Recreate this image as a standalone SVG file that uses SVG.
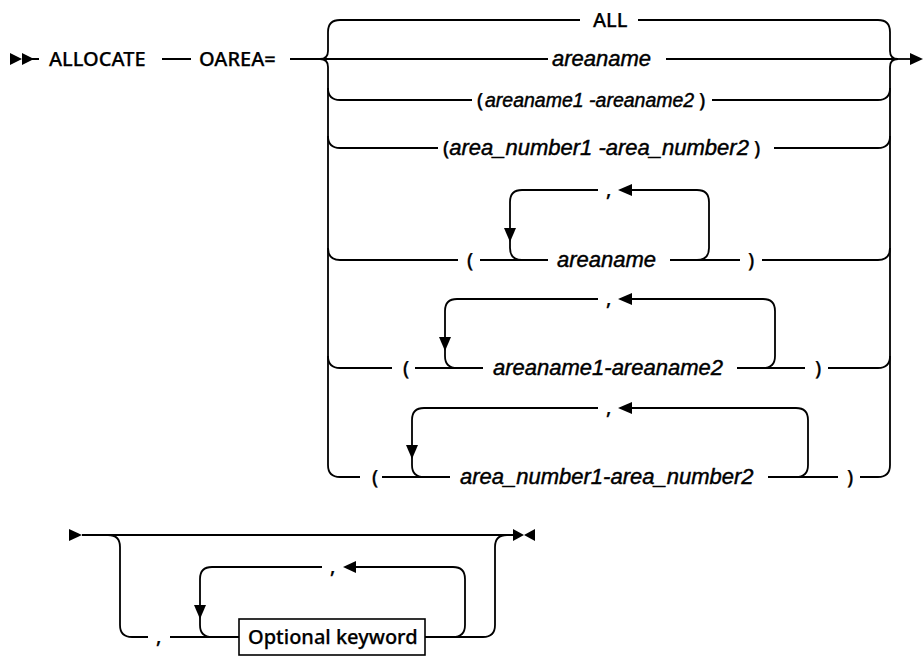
<svg xmlns="http://www.w3.org/2000/svg" width="924" height="656" viewBox="0 0 924 656">
<style>
.ln{fill:none;stroke:#000;stroke-width:1.8}
.ah{fill:#000}
.kw{font-family:"Noto Sans","Liberation Sans",sans-serif;font-size:20px;font-weight:500;fill:#000;stroke:#000;stroke-width:0.25}
.var{font-family:"Liberation Sans",Arial,sans-serif;font-size:22px;font-style:italic;fill:#000;stroke:#000;stroke-width:0.45}
.sm{font-size:19.5px}
.box{fill:#fff;stroke:#000;stroke-width:1.6}
</style>
<rect width="924" height="656" fill="#fff"/>
<g id="connectors">
  <path class="ln" d="M32 59 H39 M162 59 H191 M290 59 H320"/>
  <path class="ln" d="M340 20 Q328 20 328 32 V51 Q328 59 320 59 Q328 59 328 67 V465 Q328 477 340 477"/>
  <path class="ln" d="M328 88 Q328 100 340 100 M328 136 Q328 148 340 148 M328 248 Q328 260 340 260 M328 356 Q328 368 340 368"/>
  <path class="ln" d="M878 20 Q890 20 890 32 V51 Q890 59 898 59 Q890 59 890 67 V465 Q890 477 878 477"/>
  <path class="ln" d="M878 100 Q890 100 890 88 M878 148 Q890 148 890 136 M878 260 Q890 260 890 248 M878 368 Q890 368 890 356"/>
  <path class="ln" d="M898 59 H912"/>
  <path class="ln" d="M340 20 H580 M638 20 H878"/>
  <path class="ln" d="M320 59 H548 M666 59 H898"/>
  <path class="ln" d="M340 100 H472 M712 100 H878"/>
  <path class="ln" d="M340 148 H438 M774 148 H878"/>
  <path class="ln" d="M340 260 H458 M480 260 H548 M670 260 H740 M762 260 H878"/>
  <path class="ln" d="M598 190 H522 Q510 190 510 202 V248 Q510 260 522 260"/>
  <path class="ln" d="M632 190 H697 Q709 190 709 202 V248 Q709 260 697 260"/>
  <path class="ln" d="M340 368 H392 M415 368 H483 M737 368 H805 M828 368 H878"/>
  <path class="ln" d="M598 299 H457 Q445 299 445 311 V356 Q445 368 457 368"/>
  <path class="ln" d="M632 299 H763 Q775 299 775 311 V356 Q775 368 763 368"/>
  <path class="ln" d="M340 477 H360 M382 477 H450 M768 477 H838 M860 477 H878"/>
  <path class="ln" d="M598 408 H424 Q412 408 412 420 V465 Q412 477 424 477"/>
  <path class="ln" d="M632 408 H796 Q808 408 808 420 V465 Q808 477 796 477"/>
  <path class="ln" d="M82 535 H513"/>
  <path class="ln" d="M108 535 Q120 535 120 547 V625 Q120 637 132 637 H148 M170 637 H239"/>
  <path class="ln" d="M322 567 H212 Q200 567 200 579 V625 Q200 637 212 637"/>
  <path class="ln" d="M355 567 H453 Q465 567 465 579 V625 Q465 637 453 637"/>
  <path class="ln" d="M425 637 H483 Q495 637 495 625 V547 Q495 535 507 535"/>
  <polygon class="ah" points="10,53 22,59 10,65"/>
  <polygon class="ah" points="22,53 34,59 22,65"/>
  <polygon class="ah" points="910,53 923,59 910,65"/>
  <polygon class="ah" points="618,190 632,184 632,196"/>
  <polygon class="ah" points="504,228 516,228 510,242"/>
  <polygon class="ah" points="618,299 632,293 632,305"/>
  <polygon class="ah" points="439,337 451,337 445,351"/>
  <polygon class="ah" points="618,408 632,402 632,414"/>
  <polygon class="ah" points="406,445 418,445 412,459"/>
  <polygon class="ah" points="69,529 82,535 69,541"/>
  <polygon class="ah" points="513,529 524,535 513,541"/>
  <polygon class="ah" points="535,529 524,535 535,541"/>
  <polygon class="ah" points="343,567 356,561 356,573"/>
  <polygon class="ah" points="194,605 206,605 200,619"/>
</g>
<g id="n-allocate"><text class="kw" x="49" y="66">ALLOCATE</text></g>
<g id="n-oarea"><text class="kw" x="199" y="66">OAREA=</text></g>
<g id="n-all"><text class="kw" x="593" y="27">ALL</text></g>
<g id="n-areaname"><text class="var" x="552" y="66">areaname</text></g>
<g id="n-range">
  <text class="kw" x="477" y="107">(</text>
  <text class="var sm" x="485" y="107">areaname1 -areaname2</text>
  <text class="kw" x="699" y="107">)</text>
</g>
<g id="n-numrange"><text x="443" y="155"><tspan class="kw">(</tspan><tspan class="var">area_number1 -area_number2</tspan><tspan class="kw"> )</tspan></text></g>
<g id="n-list1">
  <text class="kw" x="467" y="267">(</text>
  <text class="var" x="557" y="267">areaname</text>
  <text class="kw" x="748" y="267">)</text>
  <text class="kw" x="606" y="196">,</text>
</g>
<g id="n-list2">
  <text class="kw" x="403" y="375">(</text>
  <text class="var" x="493" y="375">areaname1-areaname2</text>
  <text class="kw" x="815" y="375">)</text>
  <text class="kw" x="606" y="305">,</text>
</g>
<g id="n-list3">
  <text class="kw" x="372" y="484">(</text>
  <text class="var" x="460" y="484">area_number1-area_number2</text>
  <text class="kw" x="847" y="484">)</text>
  <text class="kw" x="606" y="414">,</text>
</g>
<g id="n-optional">
  <text class="kw" x="156" y="643">,</text>
  <text class="kw" x="330" y="573">,</text>
  <rect class="box" x="239" y="619" width="186" height="36"/>
  <text class="kw" x="248" y="644">Optional keyword</text>
</g>
</svg>
